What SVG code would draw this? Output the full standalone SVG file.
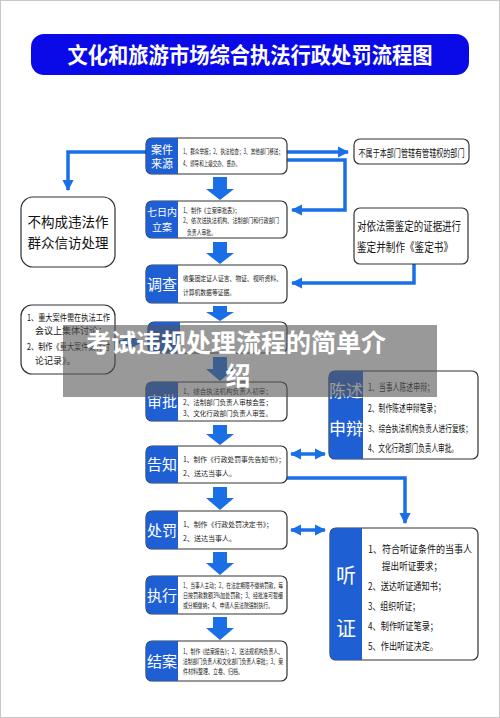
<svg xmlns="http://www.w3.org/2000/svg" width="500" height="718" viewBox="0 0 500 718">
<defs>
<style>
.t{font-family:"Noto Sans CJK SC","Noto Sans",sans-serif;}
.box{fill:#fff;stroke:#333;stroke-width:1.2;}
.lab{fill:#1f5fd4;}
.lt{fill:#fff;font-family:"Noto Sans CJK SC",sans-serif;text-anchor:middle;}
.bt{fill:#222;font-family:"Noto Sans CJK SC",sans-serif;font-size:7px;}
.st{fill:#111;font-family:"Noto Sans CJK SC",sans-serif;}
.con{fill:none;stroke:#1a6fe6;stroke-width:3.5;}
.big{fill:#1a6fe6;}
</style>
<marker id="ah" viewBox="0 0 10 10" refX="9" refY="5" markerWidth="3.2" markerHeight="3.2" orient="auto-start-reverse"><path d="M0,0 L10,5 L0,10 Z" fill="#1a6fe6"/></marker>
</defs>
<rect x="0.5" y="0.5" width="499" height="717" fill="#fff" stroke="#c8c8c8"/>
<g id="title">
<rect x="31" y="34" width="438" height="41" rx="13" fill="#0a0ae8"/>
<text x="250" y="63" class="t" font-size="22" font-weight="bold" fill="#fff" text-anchor="middle" textLength="365" lengthAdjust="spacingAndGlyphs">文化和旅游市场综合执法行政处罚流程图</text>
</g>
<g id="connectors">
<polyline class="con" points="146,152 68,152 68,190" marker-end="url(#ah)"/>
<line class="con" x1="287" y1="152" x2="348" y2="152" marker-end="url(#ah)"/>
<polyline class="con" points="287,160 345,160 345,210 292,210" marker-end="url(#ah)"/>
<polyline class="con" points="414,264 414,283 292,283" marker-end="url(#ah)"/>
<line class="con" x1="119" y1="342" x2="142" y2="342" marker-start="url(#ah)" marker-end="url(#ah)"/>
<line class="con" x1="291" y1="454" x2="325" y2="454" marker-start="url(#ah)" marker-end="url(#ah)"/>
<polyline class="con" points="287,478 405,478 405,523" marker-end="url(#ah)"/>
<line class="con" x1="291" y1="530" x2="325" y2="530" marker-start="url(#ah)" marker-end="url(#ah)"/>
<path class="big" d="M213,177 H227 V189 H234 L220,200 L206,189 H213 Z"/>
<path class="big" d="M213,242 H227 V253 H234 L220,264 L206,253 H213 Z"/>
<path class="big" d="M213,306 H227 V312 H234 L220,321 L206,312 H213 Z"/>
<path class="big" d="M213,357 H227 V369 H234 L220,381 L206,369 H213 Z"/>
<path class="big" d="M213,425 H227 V434 H234 L220,445 L206,434 H213 Z"/>
<path class="big" d="M213,487 H227 V498 H234 L220,510 L206,498 H213 Z"/>
<path class="big" d="M213,552 H227 V563 H234 L220,575 L206,563 H213 Z"/>
<path class="big" d="M213,617 H227 V628 H234 L220,640 L206,628 H213 Z"/>
</g>
<g id="n_source">
<rect class="box" x="146" y="138" width="141" height="36" rx="6"/>
<path class="lab" d="M152,138 H178 V174 H152 A6 6 0 0 1 146 168 V144 A6 6 0 0 1 152 138 Z"/>
<text class="lt" x="162" y="154" font-size="11">案件</text>
<text class="lt" x="162" y="168" font-size="11">来源</text>
<text class="bt" x="183" y="154" textLength="100" lengthAdjust="spacingAndGlyphs">1、群众举报；2、执法检查；3、其他部门移送；</text>
<text class="bt" x="183" y="166" textLength="57" lengthAdjust="spacingAndGlyphs">4、领导和上级交办、督办。</text>
</g>
<g id="n_other">
<rect class="box" x="354" y="139" width="115" height="25" rx="6"/>
<text class="st" x="411.5" y="157" font-size="10.5" text-anchor="middle" textLength="106" lengthAdjust="spacingAndGlyphs">不属于本部门管辖有管辖权的部门</text>
</g>
<g id="n_petition">
<rect class="box" x="21" y="197" width="94" height="70" rx="12"/>
<text class="st" x="68" y="227" font-size="13.5" text-anchor="middle">不构成违法作</text>
<text class="st" x="68" y="248" font-size="13.5" text-anchor="middle">群众信访处理</text>
</g>
<g id="n_file">
<rect class="box" x="146" y="201" width="141" height="37" rx="6"/>
<path class="lab" d="M152,201 H178 V238 H152 A6 6 0 0 1 146 232 V207 A6 6 0 0 1 152 201 Z"/>
<text class="lt" x="162" y="216" font-size="10">七日内</text>
<text class="lt" x="162" y="231" font-size="10">立案</text>
<text class="bt" x="183" y="213" textLength="57" lengthAdjust="spacingAndGlyphs">1、制作《立案审批表》；</text>
<text class="bt" x="183" y="223" textLength="96" lengthAdjust="spacingAndGlyphs">2、依次送执法机构、法制部门和行政部门</text>
<text class="bt" x="187" y="235" textLength="29" lengthAdjust="spacingAndGlyphs">负责人审批。</text>
</g>
<g id="n_appraise">
<rect class="box" x="354" y="208" width="114" height="56" rx="6"/>
<text class="st" x="357" y="231" font-size="12" textLength="104" lengthAdjust="spacingAndGlyphs">对依法需鉴定的证据进行</text>
<text class="st" x="357" y="252" font-size="12" textLength="96" lengthAdjust="spacingAndGlyphs">鉴定并制作《鉴定书》</text>
</g>
<g id="n_investigate">
<rect class="box" x="146" y="265" width="141" height="38" rx="6"/>
<path class="lab" d="M152,265 H178 V303 H152 A6 6 0 0 1 146 297 V271 A6 6 0 0 1 152 265 Z"/>
<text class="lt" x="162" y="290" font-size="15">调查</text>
<text class="bt" x="183" y="281" textLength="99" lengthAdjust="spacingAndGlyphs">收集固定证人证言、物证、视听资料、</text>
<text class="bt" x="183" y="295" textLength="52" lengthAdjust="spacingAndGlyphs">计算机数据等证据。</text>
</g>
<g id="n_discuss">
<rect class="box" x="21" y="305" width="94" height="69" rx="11"/>
<text class="st" x="27" y="321" font-size="9" textLength="83" lengthAdjust="spacingAndGlyphs">1、重大案件需在执法工作</text>
<text class="st" x="35" y="334" font-size="9">会议上集体讨论；</text>
<text class="st" x="27" y="350" font-size="9" textLength="83" lengthAdjust="spacingAndGlyphs">2、制作《重大案件集体讨</text>
<text class="st" x="35" y="364" font-size="9">论记录》。</text>
</g>
<g id="n_review">
<rect class="box" x="148" y="322" width="139" height="31" rx="6"/>
<path class="lab" d="M154,322 H180 V353 H154 A6 6 0 0 1 148 347 V328 A6 6 0 0 1 154 322 Z"/>
</g>
<g id="n_approve">
<rect class="box" x="146" y="382" width="141" height="39" rx="6"/>
<path class="lab" d="M152,382 H178 V421 H152 A6 6 0 0 1 146 415 V388 A6 6 0 0 1 152 382 Z"/>
<text class="lt" x="162" y="407" font-size="15">审批</text>
<text class="bt" x="183" y="394" textLength="89" lengthAdjust="spacingAndGlyphs">1、综合执法机构负责人初审；</text>
<text class="bt" x="183" y="405" textLength="89" lengthAdjust="spacingAndGlyphs">2、法制部门负责人审核会签；</text>
<text class="bt" x="183" y="416" textLength="89" lengthAdjust="spacingAndGlyphs">3、文化行政部门负责人审签。</text>
</g>
<g id="n_defense">
<rect class="box" x="329" y="371" width="149" height="88" rx="6"/>
<path class="lab" d="M335,371 H363 V459 H335 A6 6 0 0 1 329 453 V377 A6 6 0 0 1 335 371 Z"/>
<text class="lt" x="346" y="397" font-size="17">陈述</text>
<text class="lt" x="346" y="435" font-size="17">申辩</text>
<text class="st" x="368" y="391" font-size="10" textLength="66" lengthAdjust="spacingAndGlyphs">1、当事人陈述申辩；</text>
<text class="st" x="368" y="412" font-size="10" textLength="72" lengthAdjust="spacingAndGlyphs">2、制作陈述申辩笔录；</text>
<text class="st" x="368" y="432" font-size="9.5" textLength="104" lengthAdjust="spacingAndGlyphs">3、综合执法机构负责人进行复核；</text>
<text class="st" x="368" y="452" font-size="10" textLength="90" lengthAdjust="spacingAndGlyphs">4、文化行政部门负责人审批。</text>
</g>
<g id="n_notify">
<rect class="box" x="146" y="446" width="141" height="37" rx="6"/>
<path class="lab" d="M152,446 H178 V483 H152 A6 6 0 0 1 146 477 V452 A6 6 0 0 1 152 446 Z"/>
<text class="lt" x="162" y="470" font-size="15">告知</text>
<text class="bt" x="183" y="462" textLength="102" lengthAdjust="spacingAndGlyphs">1、制作《行政处罚事先告知书》；</text>
<text class="bt" x="183" y="476" textLength="53" lengthAdjust="spacingAndGlyphs">2、送达当事人。</text>
</g>
<g id="n_hearing">
<rect class="box" x="330" y="528" width="148" height="132" rx="6"/>
<path class="lab" d="M336,528 H362 V660 H336 A6 6 0 0 1 330 654 V534 A6 6 0 0 1 336 528 Z"/>
<text class="lt" x="346" y="583" font-size="20">听</text>
<text class="lt" x="346" y="636" font-size="20">证</text>
<text class="st" x="368" y="553" font-size="10" textLength="104" lengthAdjust="spacingAndGlyphs">1、符合听证条件的当事人</text>
<text class="st" x="382" y="570" font-size="10" textLength="60" lengthAdjust="spacingAndGlyphs">提出听证要求；</text>
<text class="st" x="368" y="590" font-size="10" textLength="78" lengthAdjust="spacingAndGlyphs">2、送达听证通知书；</text>
<text class="st" x="368" y="610" font-size="10" textLength="52" lengthAdjust="spacingAndGlyphs">3、组织听证；</text>
<text class="st" x="368" y="630" font-size="10" textLength="70" lengthAdjust="spacingAndGlyphs">4、制作听证笔录；</text>
<text class="st" x="368" y="650" font-size="10" textLength="70" lengthAdjust="spacingAndGlyphs">5、作出听证决定。</text>
</g>
<g id="n_punish">
<rect class="box" x="146" y="511" width="141" height="38" rx="6"/>
<path class="lab" d="M152,511 H178 V549 H152 A6 6 0 0 1 146 543 V517 A6 6 0 0 1 152 511 Z"/>
<text class="lt" x="162" y="536" font-size="15">处罚</text>
<text class="bt" x="183" y="527" textLength="90" lengthAdjust="spacingAndGlyphs">1、制作《行政处罚决定书》；</text>
<text class="bt" x="183" y="541" textLength="53" lengthAdjust="spacingAndGlyphs">2、送达当事人。</text>
</g>
<g id="n_execute">
<rect class="box" x="146" y="576" width="141" height="38" rx="6"/>
<path class="lab" d="M152,576 H178 V614 H152 A6 6 0 0 1 146 608 V582 A6 6 0 0 1 152 576 Z"/>
<text class="lt" x="162" y="601" font-size="15">执行</text>
<text class="bt" x="183" y="588" font-size="5" textLength="100" lengthAdjust="spacingAndGlyphs">1、当事人主动；2、在法定期限不缴纳罚款，每</text>
<text class="bt" x="183" y="598" font-size="5" textLength="100" lengthAdjust="spacingAndGlyphs">日按罚款数额3%加处罚款；3、经批准可暂缓</text>
<text class="bt" x="183" y="608" font-size="5" textLength="90" lengthAdjust="spacingAndGlyphs">或分期缴纳；4、申请人民法院强制执行。</text>
</g>
<g id="n_close">
<rect class="box" x="146" y="641" width="141" height="40" rx="6"/>
<path class="lab" d="M152,641 H178 V681 H152 A6 6 0 0 1 146 675 V647 A6 6 0 0 1 152 641 Z"/>
<text class="lt" x="162" y="667" font-size="15">结案</text>
<text class="bt" x="183" y="654" font-size="5" textLength="100" lengthAdjust="spacingAndGlyphs">1、制作《结案报告》；2、送法规机构负责人、</text>
<text class="bt" x="183" y="664" font-size="5" textLength="100" lengthAdjust="spacingAndGlyphs">法制部门负责人和文化部门负责人审批；3、案</text>
<text class="bt" x="183" y="674" font-size="5" textLength="60" lengthAdjust="spacingAndGlyphs">件材料整理、立卷、归档。</text>
</g>
<g id="overlay">
<rect x="63" y="325" width="374" height="72" fill="#555" fill-opacity="0.6"/>
<text x="236" y="352" class="t" font-size="25" font-weight="bold" fill="#fff" text-anchor="middle">考试违规处理流程的简单介</text>
<text x="238" y="385" class="t" font-size="25" font-weight="bold" fill="#fff" text-anchor="middle">绍</text>
</g>
</svg>
